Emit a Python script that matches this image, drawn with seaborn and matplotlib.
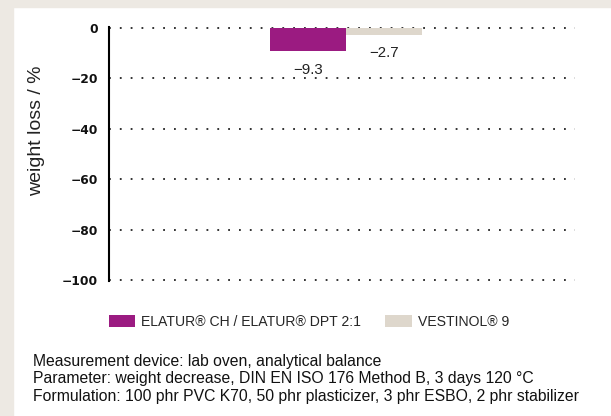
import matplotlib
matplotlib.use('Agg')
import matplotlib.pyplot as plt
import seaborn as sns
import pandas as pd
from matplotlib.patches import Patch, Rectangle

# data
products = ['ELATUR® CH / ELATUR® DPT 2:1', 'VESTINOL® 9']
weight_loss = [-9.3, -2.7]
value_labels = ['\u22129.3', '\u22122.7']
bar_colors = ['#9B1B81', '#DED7CC']
y_ticks = [0, -20, -40, -60, -80, -100]
notes = [
    'Measurement device: lab oven, analytical balance',
    'Parameter: weight decrease, DIN EN ISO 176 Method B, 3 days 120 \u00b0C',
    'Formulation: 100 phr PVC K70, 50 phr plasticizer, 3 phr ESBO, 2 phr stabilizer',
]

W, H = 611, 416

sns.set_theme(style='white')
plt.rcParams['font.family'] = ['Liberation Sans', 'DejaVu Sans']

fig = plt.figure(figsize=(W / 100, H / 100), dpi=100, facecolor='white')

# beige frame on left and top
bg = '#EDE9E3'
fig.patches.append(Rectangle((0, 0), 13 / W, 1, transform=fig.transFigure, color=bg, zorder=0))
fig.patches.append(Rectangle((0, 1 - 7 / H), 1, 7 / H, transform=fig.transFigure, color=bg, zorder=0))

ax = fig.add_axes([109 / W, 1 - 281.3 / H, 466 / W, 254.6 / H])
ax.set_facecolor('white')

df = pd.DataFrame({'group': [''] * len(products), 'product': products, 'loss': weight_loss})
sns.barplot(data=df, x='group', y='loss', hue='product', hue_order=products,
            palette=bar_colors, width=0.326, dodge=True, saturation=1,
            errorbar=None, legend=False, linewidth=0, ax=ax)

ax.set_xlim(-0.5086, 0.4914)
ax.set_ylim(-100.5, 0.5)
ax.set_yticks(y_ticks)
ax.set_xticks([])
ax.set_xlabel('')
ax.tick_params(axis='y', length=0, pad=8, labelsize=8.8, labelcolor='#111')
for t in ax.get_yticklabels():
    t.set_fontweight('bold')
    t.set_family('DejaVu Sans')

for s in ['top', 'right', 'bottom']:
    ax.spines[s].set_visible(False)
ax.spines['left'].set_color('black')
ax.spines['left'].set_linewidth(1.5)

ax.yaxis.grid(True, color='#222222', linewidth=1.3, linestyle=(0, (1, 5)))
ax.set_axisbelow(True)

for container, lab in zip(ax.containers, value_labels):
    ax.bar_label(container, labels=[lab], padding=8, fontsize=10.8, color='#222222')

ax.set_ylabel('weight loss / %', fontsize=14, color='#222222')
ax.yaxis.set_label_coords((45 - 109) / 466, (281.3 - 131) / 254.6)

handles = [Patch(facecolor=c, edgecolor='none', label=p) for p, c in zip(products, bar_colors)]
fig.legend(handles=handles, loc='center left', bbox_to_anchor=(109 / W, 1 - 321.5 / H),
           ncol=2, frameon=False, fontsize=10.1, handlelength=1.87, handleheight=0.94,
           handletextpad=0.43, columnspacing=1.73, borderpad=0, borderaxespad=0)

for i, line in enumerate(notes):
    fig.text(33 / W, 1 - (366 + 17.5 * i) / H, line, fontsize=11.3, va='baseline', color='#111111')

fig.savefig('out.png', dpi=100)
